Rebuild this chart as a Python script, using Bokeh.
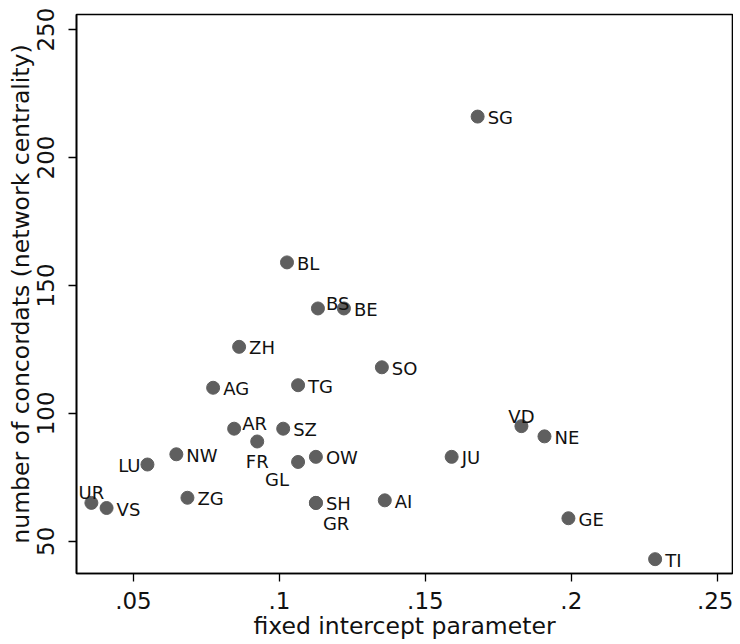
from bokeh.plotting import figure
from bokeh.models import ColumnDataSource, FixedTicker, Range1d
from bokeh.core.properties import value
from bokeh.embed import file_html
from bokeh.resources import INLINE

# data
cantons = ["SG", "BL", "BS", "BE", "ZH", "AG", "TG", "SO", "AR", "SZ", "FR", "VD", "NE",
           "NW", "LU", "OW", "GL", "JU", "UR", "VS", "ZG", "SH", "GR", "AI", "GE", "TI"]
intercept = [0.1679, 0.1026, 0.1132, 0.1221, 0.0862, 0.0773, 0.1064, 0.1351, 0.0845, 0.1013,
             0.0924, 0.1829, 0.1908, 0.0647, 0.0548, 0.1125, 0.1064, 0.1590, 0.0356, 0.0408,
             0.0685, 0.1125, 0.1125, 0.1361, 0.1990, 0.2287]
concordats = [216, 159, 141, 141, 126, 110, 111, 118, 94, 94,
              89, 95, 91, 84, 80, 83, 81, 83, 65, 63,
              67, 65, 65, 66, 59, 43]
x_ticks = [0.05, 0.10, 0.15, 0.20, 0.25]
x_tick_labels = [".05", ".1", ".15", ".2", ".25"]
y_ticks = [50, 100, 150, 200, 250]

# label placement (clock positions, Stata style)
label_pos = {"BS": 1, "AR": 1, "FR": 6, "VD": 12, "UR": 12, "LU": 9, "GL": 7, "GR": 4}
pos_style = {
    3: dict(text_align="left", text_baseline="middle", x_offset=10, y_offset=1),
    9: dict(text_align="right", text_baseline="middle", x_offset=-7, y_offset=1),
    12: dict(text_align="center", text_baseline="alphabetic", x_offset=0, y_offset=-10),
    6: dict(text_align="center", text_baseline="top", x_offset=0, y_offset=10),
    1: dict(text_align="left", text_baseline="alphabetic", x_offset=8, y_offset=-5),
    7: dict(text_align="right", text_baseline="top", x_offset=-9, y_offset=7),
    4: dict(text_align="left", text_baseline="top", x_offset=7, y_offset=10),
}

FONT = "DejaVu Sans"

p = figure(width=733, height=644, output_backend="svg", toolbar_location=None,
           x_range=Range1d(0.0305, 0.2552), y_range=Range1d(37.4, 255.9),
           min_border_left=76, min_border_right=1, min_border_top=14, min_border_bottom=71,
           background_fill_color="white", border_fill_color="white")
p.xgrid.visible = False
p.ygrid.visible = False
p.outline_line_color = "black"
p.outline_line_width = 1.6

src = ColumnDataSource(dict(x=intercept, y=concordats, name=cantons))
p.scatter("x", "y", source=src, size=13, fill_color="#5f5f5f", line_color="#5f5f5f")

for pos, st in pos_style.items():
    idx = [i for i, c in enumerate(cantons) if label_pos.get(c, 3) == pos]
    if not idx:
        continue
    s = ColumnDataSource(dict(x=[intercept[i] for i in idx], y=[concordats[i] for i in idx],
                              t=[cantons[i] for i in idx]))
    p.text("x", "y", text="t", source=s, text_font=value(FONT), text_font_size="18px",
           text_color="#111111", **st)

xa = p.xaxis[0]
xa.ticker = FixedTicker(ticks=x_ticks)
xa.major_label_overrides = {t: l for t, l in zip(x_ticks, x_tick_labels)}
xa.axis_label = "fixed intercept parameter"
ya = p.yaxis[0]
ya.ticker = FixedTicker(ticks=y_ticks)
ya.major_label_orientation = "vertical"
ya.axis_label = "number of concordats (network centrality)"

for ax in (xa, ya):
    ax.minor_tick_line_color = None
    ax.major_tick_out = 8
    ax.major_tick_in = 0
    ax.major_tick_line_color = "black"
    ax.major_tick_line_width = 1.3
    ax.axis_line_color = "black"
    ax.axis_line_width = 1.6
    ax.major_label_text_font = FONT
    ax.major_label_text_font_size = "23px"
    ax.major_label_text_color = "#111111"
    ax.axis_label_text_font = FONT
    ax.axis_label_text_font_size = "23.5px"
    ax.axis_label_text_font_style = "normal"
    ax.axis_label_text_color = "#111111"
    ax.axis_label_standoff = 0
xa.major_label_standoff = 10
ya.major_label_standoff = 14

open("out.html", "w").write(file_html(p, INLINE))
